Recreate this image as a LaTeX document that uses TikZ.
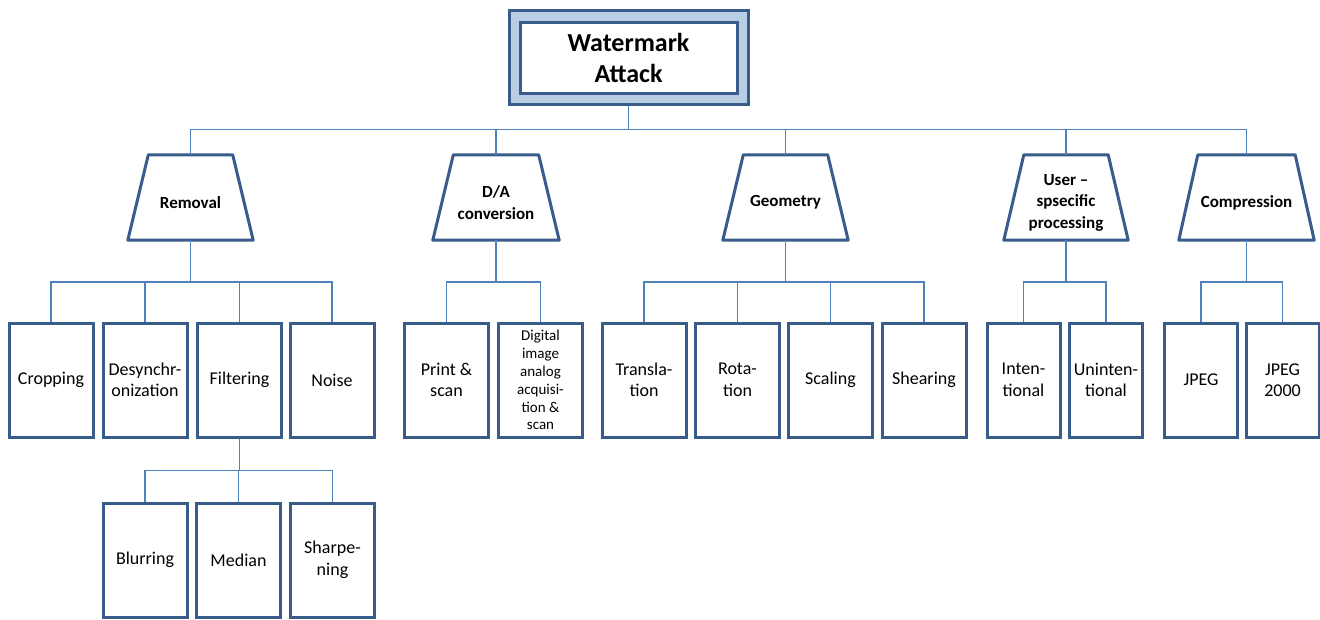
\documentclass[tikz,border=0pt]{standalone}
\usepackage{fontspec}
\setmainfont{Carlito}
\definecolor{boxblue}{RGB}{56,93,138}
\definecolor{connblue}{RGB}{79,129,189}
\definecolor{topfill}{RGB}{185,205,229}
\begin{document}
\begin{tikzpicture}[x=1pt,y=-1pt,
  conn/.style={draw=connblue,line width=1.9pt},
  leaf/.style={draw=boxblue,line width=3pt,fill=white,minimum width=84pt,minimum height=114pt,inner sep=0pt,align=center,font=\fontsize{18}{21.5}\selectfont},
  narrowleaf/.style={leaf,minimum width=73pt},
  smallleaf/.style={leaf,font=\fontsize{15}{17.9}\selectfont},
  trapbox/.style={minimum height=85pt,inner sep=0pt},
  traplbl/.style={font=\fontsize{17}{21.5}\selectfont\bfseries,align=center,yshift=-5pt},
  trapline/.style={draw=boxblue,line width=3pt,line join=round,fill=white}]
\useasboundingbox (0,0) rectangle (1320,619);
% top
\node[draw=boxblue,line width=3pt,fill=topfill,minimum width=239pt,minimum height=94pt,inner sep=0pt] (topout) at (628.5,57) {};
\node[draw=boxblue,line width=3pt,fill=white,minimum width=217pt,minimum height=71pt,inner sep=0pt,align=center,font=\fontsize{26}{31}\selectfont\bfseries] (top) at (628.5,57.5) {Watermark\\Attack};
% trapezoid frames (named boxes give the anchors)
\node[trapbox,minimum width=125pt] (rem) at (190.5,197.5) {};
\node[trapbox,minimum width=126pt] (da) at (496,197.5) {};
\node[trapbox,minimum width=125pt] (geo) at (785.5,197.5) {};
\node[trapbox,minimum width=124pt] (usr) at (1066,197.5) {};
\node[trapbox,minimum width=135pt] (cmp) at (1246.5,197.5) {};
\foreach \n/\i in {rem/20.5,da/20.5,geo/20.5,usr/20,cmp/19}
  \draw[trapline] ([xshift=\i pt]\n.north west) -- ([xshift=-\i pt]\n.north east) -- (\n.south east) -- (\n.south west) -- cycle;
\node[traplbl] (remt) at (rem.center) {Removal};
\node[traplbl] (dat) at (da.center) {D/A\\conversion};
\node[traplbl] (geot) at (geo.center) {Geometry};
\node[traplbl] (usrt) at (usr.center) {User --\\spsecific\\processing};
\node[traplbl] (cmpt) at (cmp.center) {Compression};
% leaves
\node[leaf] (crop) at (51,380) {Cropping};
\node[leaf] (desync) at (145,380) {Desynchr-\\onization};
\node[leaf] (filt) at (239.5,380) {Filtering};
\node[leaf] (noise) at (332,380) {Noise};
\node[leaf] (print) at (446.5,380) {Print \&\\scan};
\node[smallleaf] (dig) at (540.5,380) {Digital\\image\\analog\\acquisi-\\tion \&\\scan};
\node[leaf] (trans) at (644,380) {Transla-\\tion};
\node[leaf] (rot) at (737.5,380) {Rota-\\tion};
\node[leaf] (scal) at (830.5,380) {Scaling};
\node[leaf] (shear) at (924,380) {Shearing};
\node[narrowleaf] (int) at (1023.5,380) {Inten-\\tional};
\node[narrowleaf] (unint) at (1106,380) {Uninten-\\tional};
\node[narrowleaf] (jpeg) at (1201,380) {JPEG};
\node[narrowleaf] (jpegk) at (1282.5,380) {JPEG\\2000};
\node[leaf] (blur) at (145,560) {Blurring};
\node[leaf] (med) at (238.5,560) {Median};
\node[leaf] (sharp) at (332.5,560) {Sharpe-\\ning};
% connectors
\foreach \c in {rem,da,geo,usr,cmp}
  \draw[conn] (topout.south) -- ++(0,24) -| (\c.north);
\foreach \c in {crop,desync,filt,noise}
  \draw[conn] (rem.south) -- ++(0,42) -| (\c.north);
\foreach \c in {print,dig}
  \draw[conn] (da.south) -- ++(0,42) -| (\c.north);
\foreach \c in {trans,rot,scal,shear}
  \draw[conn] (geo.south) -- ++(0,42) -| (\c.north);
\foreach \c in {int,unint}
  \draw[conn] (usr.south) -- ++(0,42) -| (\c.north);
\foreach \c in {jpeg,jpegk}
  \draw[conn] (cmp.south) -- ++(0,42) -| (\c.north);
\foreach \c in {blur,med,sharp}
  \draw[conn] (filt.south) -- ++(0,32) -| (\c.north);
\end{tikzpicture}
\end{document}
